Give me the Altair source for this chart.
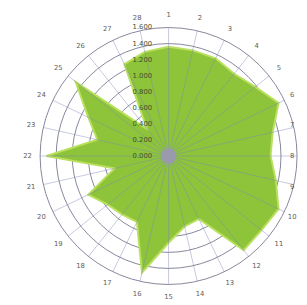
import altair as alt
import pandas as pd

# ---- data ----
categories = [str(i) for i in range(1, 29)]
values = [1.36, 1.35, 1.35, 1.31, 1.38, 1.52, 1.33, 1.27, 1.37, 1.52, 1.48, 1.50,
          0.87, 0.90, 1.08, 1.49, 0.91, 0.93, 0.97, 1.11, 0.69, 1.52, 0.91, 1.11,
          1.48, 0.43, 1.27, 1.33]
ring_values = [0.2, 0.4, 0.6, 0.8, 1.0, 1.2, 1.4, 1.6]
tick_values = [0.0, 0.2, 0.4, 0.6, 0.8, 1.0, 1.2, 1.4, 1.6]
tick_labels = ["0.000", "0.200", "0.400", "0.600", "0.800", "1.000", "1.200", "1.400", "1.600"]

N = len(categories)
RMAX = 1.6
PX = 82.5          # pixels per unit
W, H = 299, 297
CX, CY = 165, 148

xs = alt.Scale(domain=[-CX / PX, (W - CX) / PX])
ys = alt.Scale(domain=[-(H - CY) / PX, CY / PX])

cat_df = pd.DataFrame({"cat": categories, "value": values, "idx": list(range(N))})
ring_df = pd.DataFrame({"r": ring_values})
tick_df = pd.DataFrame({"v": tick_values, "label": tick_labels})

ang = f"datum.idx*2*PI/{N}"

rings = alt.Chart(ring_df).mark_point(
    shape="circle", filled=False, stroke="#85859a", strokeWidth=1, opacity=1
).transform_calculate(
    x="0", y="0", s=f"pow(2*datum.r*{PX},2)"
).encode(
    x=alt.X("x:Q", scale=xs, axis=None),
    y=alt.Y("y:Q", scale=ys, axis=None),
    size=alt.Size("s:Q", scale=None, legend=None),
)

poly = alt.Chart(cat_df).mark_line(
    interpolate="linear-closed", fill="#8dc43a", stroke="#b9e05c", strokeWidth=2
).transform_calculate(
    x=f"datum.value*sin({ang})", y=f"datum.value*cos({ang})"
).encode(
    x=alt.X("x:Q", scale=xs, axis=None),
    y=alt.Y("y:Q", scale=ys, axis=None),
    order="idx:Q",
)

spokes = alt.Chart(cat_df).mark_rule(
    color="#7e86b8", strokeWidth=1, opacity=0.45
).transform_calculate(
    x="0", y="0", x2=f"{RMAX}*sin({ang})", y2=f"{RMAX}*cos({ang})"
).encode(
    x=alt.X("x:Q", scale=xs, axis=None),
    y=alt.Y("y:Q", scale=ys, axis=None),
    x2="x2:Q", y2="y2:Q",
)

center = alt.Chart(pd.DataFrame({"x": [0.0], "y": [0.0]})).mark_point(
    shape="circle", filled=True, size=256, color="#9a9aae", opacity=1
).encode(
    x=alt.X("x:Q", scale=xs, axis=None),
    y=alt.Y("y:Q", scale=ys, axis=None),
)

rlabels = alt.Chart(tick_df).mark_text(
    fontSize=7, color="#44502a", align="center", baseline="middle", font="DejaVu Sans"
).transform_calculate(
    x=f"-27/{PX}", y="datum.v"
).encode(
    x=alt.X("x:Q", scale=xs, axis=None),
    y=alt.Y("y:Q", scale=ys, axis=None),
    text="label:N",
)

xmax_label = (W - 7 - CX) / PX
clabels = alt.Chart(cat_df).mark_text(
    fontSize=7, color="#5e5e5e", align="center", baseline="middle", font="DejaVu Sans"
).transform_calculate(
    x=f"min({145/PX}*sin({ang}), {xmax_label})", y=f"{145/PX}*cos({ang})"
).encode(
    x=alt.X("x:Q", scale=xs, axis=None),
    y=alt.Y("y:Q", scale=ys, axis=None),
    text="cat:N",
)

chart = alt.layer(rings, poly, spokes, center, rlabels, clabels).properties(
    width=W, height=H, autosize="none", padding=0
).configure_view(stroke=None)

chart.save("out.html", embed_options={"renderer": "svg", "actions": False})
